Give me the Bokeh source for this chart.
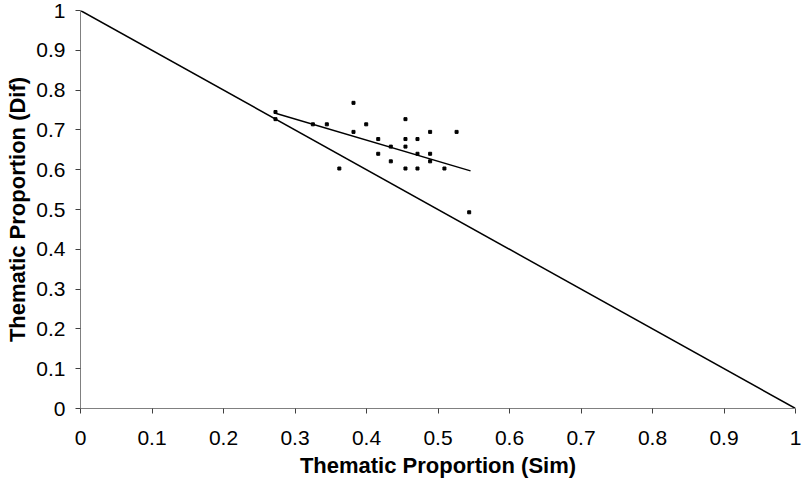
from bokeh.plotting import figure
from bokeh.models import Range1d, FixedTicker
from bokeh.embed import file_html
from bokeh.resources import INLINE

# scatter data (Sim, Dif)
sim = [0.2727, 0.2727, 0.3818, 0.3250, 0.3445, 0.3996, 0.4545, 0.3818, 0.4890, 0.5260,
       0.4164, 0.4545, 0.4713, 0.4340, 0.4545, 0.4164, 0.4713, 0.4890, 0.4340, 0.4890,
       0.3620, 0.4545, 0.4713, 0.5090, 0.5436]
dif = [0.745, 0.727, 0.768, 0.714, 0.714, 0.714, 0.727, 0.695, 0.695, 0.695,
       0.677, 0.677, 0.677, 0.658, 0.658, 0.640, 0.640, 0.640, 0.621, 0.621,
       0.603, 0.603, 0.603, 0.603, 0.493]

# linear trend line (as drawn in the chart)
trend_sim = [0.2727, 0.5455]
trend_dif = [0.742, 0.597]

# reference line Sim + Dif = 1
ref_x = [0.0, 1.0]
ref_y = [1.0, 0.0]

ticks = [0.0, 0.1, 0.2, 0.3, 0.4, 0.5, 0.6, 0.7, 0.8, 0.9, 1.0]
tick_labels = ["0", "0.1", "0.2", "0.3", "0.4", "0.5", "0.6", "0.7", "0.8", "0.9", "1"]

p = figure(width=806, height=492, output_backend="svg", toolbar_location=None,
           x_range=Range1d(0, 1), y_range=Range1d(0, 1))
p.min_border_left = 80
p.min_border_right = 11
p.min_border_top = 10
p.min_border_bottom = 84
p.outline_line_color = None
p.grid.visible = False
p.background_fill_color = "white"
p.border_fill_color = "white"

font = "Liberation Sans"
overrides = {t: l for t, l in zip(ticks, tick_labels)}
for ax in (p.xaxis[0], p.yaxis[0]):
    ax.ticker = FixedTicker(ticks=ticks)
    ax.major_label_overrides = overrides
    ax.minor_tick_line_color = None
    ax.major_tick_in = 0
    ax.major_tick_out = 5
    ax.axis_line_color = "#808080"
    ax.major_tick_line_color = "#404040"
    ax.major_label_text_font = font
    ax.major_label_text_font_size = "21px"
    ax.major_label_text_color = "black"
    ax.axis_label_text_font = font
    ax.axis_label_text_font_size = "22px"
    ax.axis_label_text_font_style = "bold"
    ax.axis_label_text_color = "black"

p.xaxis.axis_label = "Thematic Proportion (Sim)"
p.yaxis.axis_label = "Thematic Proportion (Dif)"
p.xaxis.major_label_standoff = 17
p.xaxis.axis_label_standoff = 5
p.yaxis.major_label_standoff = 10
p.yaxis.axis_label_standoff = 3

p.line(ref_x, ref_y, line_color="black", line_width=1.5)
p.line(trend_sim, trend_dif, line_color="black", line_width=1.5)
p.scatter(sim, dif, marker="square", size=3, fill_color="black", line_color="black")

open("out.html", "w").write(file_html(p, INLINE))
